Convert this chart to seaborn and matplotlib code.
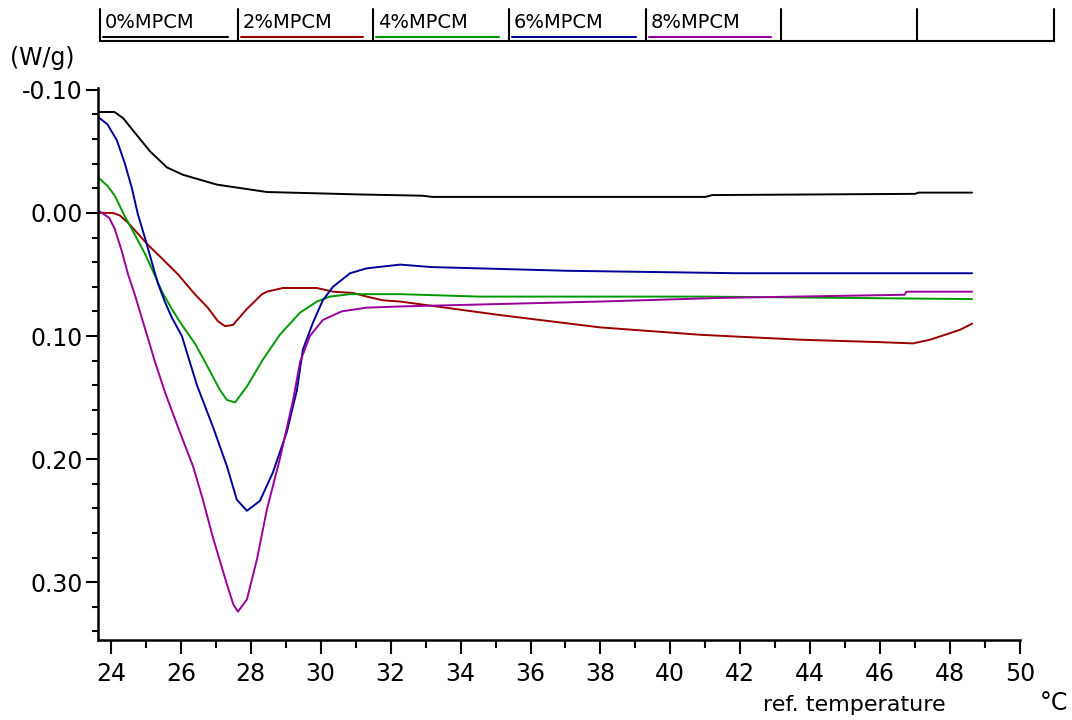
import matplotlib
matplotlib.use("Agg")
import matplotlib.pyplot as plt
import matplotlib.lines as mlines
from matplotlib.ticker import MultipleLocator, FormatStrFormatter
import seaborn as sns
import pandas as pd

# DSC heat flow curves
labels = ["0%MPCM", "2%MPCM", "4%MPCM", "6%MPCM", "8%MPCM"]
colors = ["#000000", "#990000", "#009900", "#000099", "#990099"]

t_0 = [23.63, 24.10, 24.35, 24.63, 25.12, 25.60, 26.06, 27.03, 28.46, 31.12, 32.90, 33.20,
       41.00, 41.20, 47.00, 47.10, 48.63]
hf_0 = [-0.082, -0.082, -0.077, -0.067, -0.050, -0.037, -0.031, -0.023, -0.017, -0.015, -0.014, -0.013,
        -0.013, -0.0145, -0.0155, -0.0165, -0.0165]

t_2 = [23.63, 24.05, 24.25, 24.49, 25.06, 25.46, 25.92, 26.40, 26.77, 27.06, 27.26, 27.49, 27.89,
       28.32, 28.46, 28.92, 29.89, 30.35, 30.92, 31.32, 31.78, 32.27, 35.13, 37.99, 40.85,
       43.71, 46.00, 46.94, 47.43, 47.86, 48.28, 48.63]
hf_2 = [0.000, 0.000, 0.002, 0.008, 0.026, 0.037, 0.050, 0.066, 0.077, 0.088, 0.092, 0.091, 0.078,
        0.066, 0.064, 0.061, 0.061, 0.064, 0.065, 0.068, 0.071, 0.072, 0.083, 0.093, 0.099,
        0.103, 0.105, 0.106, 0.103, 0.099, 0.095, 0.090]

t_4 = [23.63, 23.90, 24.11, 24.40, 24.69, 24.97, 25.26, 25.46, 25.74, 26.03, 26.40, 26.69, 27.12,
       27.32, 27.55, 27.89, 28.35, 28.83, 29.41, 29.89, 30.26, 30.84, 32.27, 34.55, 41.00, 48.63]
hf_4 = [-0.029, -0.022, -0.014, 0.003, 0.018, 0.033, 0.051, 0.064, 0.078, 0.091, 0.106, 0.121, 0.144,
        0.152, 0.154, 0.141, 0.119, 0.099, 0.081, 0.072, 0.068, 0.066, 0.066, 0.068, 0.068, 0.070]

t_6 = [23.63, 23.90, 24.17, 24.40, 24.60, 24.77, 24.97, 25.17, 25.34, 25.54, 25.74, 26.03, 26.20,
       26.46, 26.92, 27.32, 27.60, 27.89, 28.26, 28.63, 29.03, 29.32, 29.49, 29.78, 30.06, 30.35,
       30.84, 31.32, 32.27, 33.18, 37.04, 41.93, 48.63]
hf_6 = [-0.078, -0.072, -0.059, -0.040, -0.020, 0.001, 0.020, 0.040, 0.057, 0.072, 0.085, 0.100,
        0.116, 0.140, 0.174, 0.206, 0.233, 0.242, 0.234, 0.211, 0.178, 0.144, 0.111, 0.089, 0.071,
        0.060, 0.049, 0.045, 0.042, 0.044, 0.047, 0.049, 0.049]

t_8 = [23.63, 23.74, 23.95, 24.11, 24.31, 24.49, 24.69, 24.89, 25.06, 25.26, 25.55, 25.97, 26.35,
       26.63, 26.92, 27.32, 27.50, 27.63, 27.89, 28.18, 28.46, 28.83, 29.21, 29.41, 29.69, 30.06,
       30.60, 31.30, 32.27, 37.99, 41.50, 46.70, 46.75, 48.63]
hf_8 = [-0.002, 0.000, 0.004, 0.013, 0.031, 0.050, 0.067, 0.086, 0.102, 0.121, 0.146, 0.178, 0.206,
        0.233, 0.264, 0.302, 0.318, 0.324, 0.314, 0.281, 0.241, 0.200, 0.152, 0.121, 0.100, 0.087,
        0.080, 0.077, 0.076, 0.072, 0.069, 0.0665, 0.064, 0.064]

temps = [t_0, t_2, t_4, t_6, t_8]
flows = [hf_0, hf_2, hf_4, hf_6, hf_8]

frames = []
for lab, t, v in zip(labels, temps, flows):
    frames.append(pd.DataFrame({"temp": t, "hf": v, "sample": lab}))
df = pd.concat(frames, ignore_index=True)

sns.set_style("ticks")
plt.rcParams["font.family"] = ["DejaVu Sans"]
plt.rcParams["axes.unicode_minus"] = False
plt.rcParams["text.color"] = "black"
plt.rcParams["xtick.color"] = "black"
plt.rcParams["ytick.color"] = "black"
plt.rcParams["xtick.labelcolor"] = "black"
plt.rcParams["ytick.labelcolor"] = "black"

W, H = 1072, 720
fig = plt.figure(figsize=(W / 100, H / 100), dpi=100)
ax = fig.add_axes([98 / W, 1 - 640 / H, (1020 - 98) / W, (640 - 88) / H])

sns.lineplot(data=df, x="temp", y="hf", hue="sample", palette=dict(zip(labels, colors)),
             estimator=None, sort=False, legend=False, linewidth=1.4, ax=ax)

ax.set_xlim(23.63, 50)
ax.set_ylim(0.347, -0.1015)
ax.xaxis.set_minor_locator(MultipleLocator(1))
ax.yaxis.set_minor_locator(MultipleLocator(0.02))
ax.yaxis.set_major_formatter(FormatStrFormatter("%.2f"))
ax.set_xticks([24 + 2 * i for i in range(14)])
ax.set_yticks([-0.1, 0.0, 0.1, 0.2, 0.3])
ax.tick_params(axis="x", which="major", length=10, width=1.5, pad=6, labelsize=17, colors="black")
ax.tick_params(axis="x", which="minor", length=6, width=1.5, colors="black")
ax.tick_params(axis="y", which="major", length=9, width=1.5, pad=2, labelsize=17, colors="black")
ax.tick_params(axis="y", which="minor", length=4, width=1.5, colors="black")
ax.set_xlabel("")
ax.set_ylabel("")
sns.despine(ax=ax)
for side in ["left", "bottom"]:
    ax.spines[side].set_linewidth(1.8)
    ax.spines[side].set_color("black")


def fx(px):
    return px / W


def fy(py):
    return 1 - py / H


# legend strip along the top
seps = [100, 238, 373, 509, 646, 781, 917, 1054]
fig.add_artist(mlines.Line2D([fx(seps[0]), fx(seps[-1])], [fy(41), fy(41)], color="black", lw=1.5))
for s in seps:
    fig.add_artist(mlines.Line2D([fx(s), fx(s)], [fy(9), fy(41)], color="black", lw=1.5))
for i, (lab, c) in enumerate(zip(labels, colors)):
    fig.text(fx(seps[i] + 5), fy(22), lab, fontsize=14, ha="left", va="center", color="black")
    fig.add_artist(mlines.Line2D([fx(seps[i] + 3), fx(seps[i + 1] - 10)], [fy(37), fy(37)],
                                 color=c, lw=1.5))

fig.text(fx(10), fy(58), "(W/g)", fontsize=17, ha="left", va="center", color="black")
fig.text(fx(763), fy(705), "ref. temperature", fontsize=16, ha="left", va="center", color="black")
fig.text(fx(1040), fy(703), "°C", fontsize=17, ha="left", va="center", color="black")

fig.savefig("out.png", dpi=100)
